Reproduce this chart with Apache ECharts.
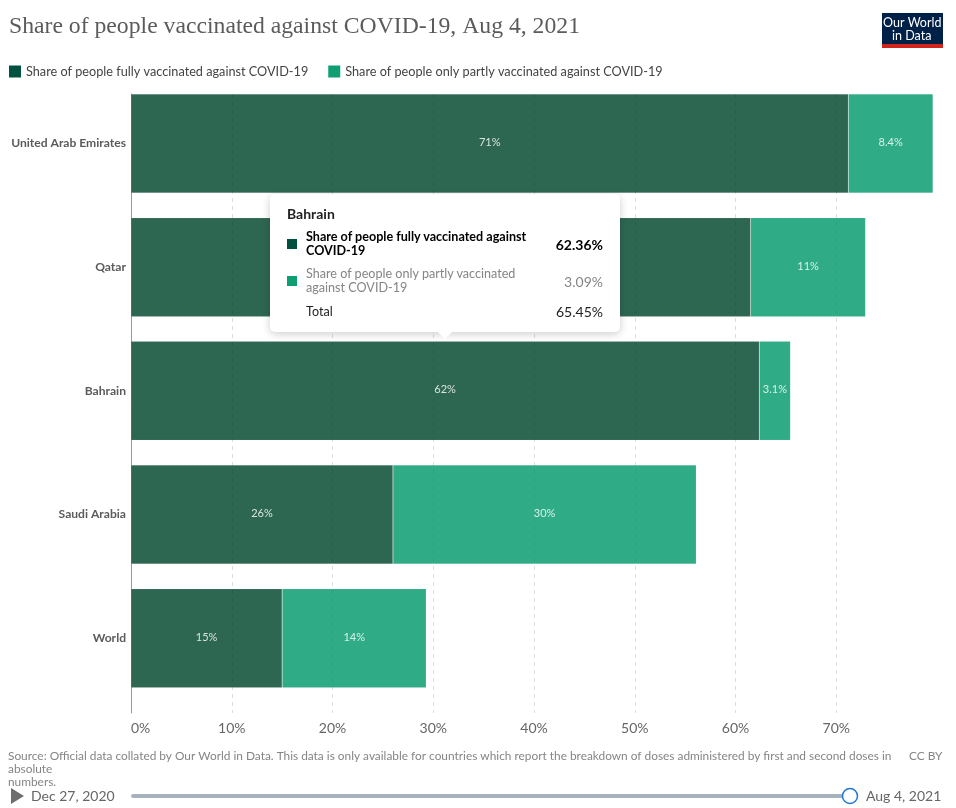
<!DOCTYPE html>
<html>
<head>
<meta charset="utf-8">
<style>
  html, body { margin: 0; padding: 0; background: #fff; }
  #chart { width: 956px; height: 808px; }
</style>
<script src="https://cdn.jsdelivr.net/npm/echarts@6/dist/echarts.min.js"></script>
</head>
<body>
<div id="chart"></div>
<script>
const titleText = 'Share of people vaccinated against COVID-19, Aug 4, 2021';
const countries = ['United Arab Emirates', 'Qatar', 'Bahrain', 'Saudi Arabia', 'World'];
const fullyName = 'Share of people fully vaccinated against COVID-19';
const partlyName = 'Share of people only partly vaccinated against COVID-19';
const fullyValues = [71.2, 61.5, 62.36, 26, 15];
const partlyValues = [8.4, 11.4, 3.09, 30.1, 14.3];
const xTicks = [0, 10, 20, 30, 40, 50, 60, 70];
const sourceLines = [
  'Source: Official data collated by Our World in Data. This data is only available for countries which report the breakdown of doses administered by first and second doses in',
  'absolute',
  'numbers.'
];

const FONT = 'Lato, "Noto Sans", sans-serif';
const DARK = '#00513f';
const GREEN = '#0d9e72';
const DARK_BAR = '#00452b';
const GREEN_BAR = '#01986a';
const X_MAX = 79.6;

const chart = echarts.init(document.getElementById('chart'));

// 2 sig figs like the labels on the bars
function barLabel(v) {
  return parseFloat(v.toPrecision(2)) + '%';
}

function tipRow(color, name, value, weight, textColor, top) {
  return '<div style="display:flex;align-items:center;margin-top:' + top + 'px;color:' + textColor + ';font-weight:' + weight + '">' +
    '<span style="width:10px;height:10px;background:' + color + ';flex:none;margin-right:9px"></span>' +
    '<span style="flex:1;font-size:12.6px;line-height:14px;white-space:normal;padding-right:22px">' + name + '</span>' +
    '<span style="font-size:14px">' + value.toFixed(2) + '%</span></div>';
}

function tipHtml(i) {
  const total = fullyValues[i] + partlyValues[i];
  return '<div style="font-family:' + FONT.replace(/"/g, "'") + ';width:316px">' +
    '<div style="font-size:14px;font-weight:700;color:#222;line-height:17px;margin-bottom:8px">' + countries[i] + '</div>' +
    tipRow(DARK, fullyName, fullyValues[i], 700, '#000', 6) +
    tipRow(GREEN, partlyName, partlyValues[i], 400, '#858585', 9) +
    '<div style="display:flex;align-items:center;margin-top:6px;color:#222">' +
    '<span style="flex:1;font-size:12.6px;padding-left:19px">Total</span>' +
    '<span style="font-size:14px">' + total.toFixed(2) + '%</span></div>' +
    '<div style="position:absolute;left:170px;bottom:-5px;width:10px;height:10px;background:#fff;transform:rotate(45deg)"></div>' +
    '</div>';
}

function barSeries(name, values, color) {
  return {
    name: name,
    type: 'bar',
    stack: 'doses',
    xAxisIndex: 0,
    yAxisIndex: 0,
    barWidth: 99,
    data: values,
    itemStyle: { color: color, opacity: 0.82, borderColor: 'rgba(255,255,255,0.25)', borderWidth: 0.5 },
    emphasis: { disabled: true },
    label: {
      show: true,
      position: 'inside',
      offset: [0, -1],
      color: '#fff',
      fontFamily: FONT,
      fontSize: 11,
      formatter: p => barLabel(p.value)
    }
  };
}

chart.setOption({
  animation: false,
  backgroundColor: '#fff',
  textStyle: { fontFamily: FONT },
  title: {
    text: titleText,
    left: 9,
    top: 15,
    padding: 0,
    textStyle: { fontFamily: '"Liberation Serif", serif', fontWeight: 400, fontSize: 23.7, color: '#5b5b5b' }
  },
  legend: {
    left: 9,
    top: 65,
    padding: 0,
    itemWidth: 12,
    itemHeight: 12,
    itemGap: 20,
    icon: 'rect',
    selectedMode: false,
    textStyle: { fontFamily: FONT, fontSize: 12.7, color: '#444' },
    data: [
      { name: fullyName, itemStyle: { color: DARK, opacity: 1, borderWidth: 0 } },
      { name: partlyName, itemStyle: { color: GREEN, opacity: 1, borderWidth: 0 } }
    ]
  },
  tooltip: {
    trigger: 'item',
    alwaysShowContent: true,
    transitionDuration: 0,
    enterable: false,
    position: [270, 194],
    padding: [11, 17, 10, 17],
    backgroundColor: '#fff',
    borderWidth: 0,
    extraCssText: 'border-radius:5px;box-shadow:0 2px 8px rgba(0,0,0,0.2);',
    formatter: p => tipHtml(p.dataIndex)
  },
  grid: [
    { left: 131, right: 23, top: 81.6, height: 618.5 },
    { left: 131, right: 23, top: 94, height: 619 }
  ],
  xAxis: [
    { type: 'value', gridIndex: 0, min: 0, max: X_MAX, show: false },
    {
      type: 'value',
      gridIndex: 1,
      min: 0,
      max: X_MAX,
      interval: xTicks[1] - xTicks[0],
      axisLine: { show: false },
      axisTick: { show: false },
      splitLine: { show: true, showMinLine: false, showMaxLine: false, lineStyle: { color: '#dddddd', type: [4, 4] } },
      axisLabel: {
        color: '#666',
        fontSize: 14,
        margin: 8,
        fontFamily: FONT,
        alignMinLabel: 'left',
        showMaxLabel: false,
        formatter: v => (xTicks.includes(v) ? v + '%' : '')
      }
    }
  ],
  yAxis: [
    {
      type: 'category',
      gridIndex: 0,
      inverse: true,
      data: countries,
      axisLine: { show: false },
      axisTick: { show: false },
      axisLabel: { color: '#5b5b5b', fontSize: 12.1, fontWeight: 700, margin: 5, padding: [0, 0, 3, 0], fontFamily: FONT }
    },
    {
      type: 'value',
      gridIndex: 1,
      min: 0,
      max: 1,
      axisLine: { show: true, lineStyle: { color: '#999', width: 1 } },
      axisTick: { show: false },
      axisLabel: { show: false },
      splitLine: { show: false }
    }
  ],
  series: [
    barSeries(fullyName, fullyValues, DARK_BAR),
    barSeries(partlyName, partlyValues, GREEN_BAR)
  ],
  graphic: [
    // logo
    { type: 'rect', left: 882, top: 13, shape: { width: 61, height: 31 }, style: { fill: '#002147' } },
    { type: 'rect', left: 882, top: 44, shape: { width: 61, height: 4 }, style: { fill: '#ce261e' } },
    { type: 'text', left: 883, top: 16, style: { text: 'Our World', fill: '#fff', font: '12.5px ' + FONT } },
    { type: 'text', left: 892, top: 29, style: { text: 'in Data', fill: '#fff', font: '12.5px ' + FONT } },
    // footer
    { type: 'text', left: 8, top: 750, style: { text: sourceLines.join('\n'), fill: '#858585', font: '11.87px ' + FONT, lineHeight: 13 } },
    { type: 'text', left: 909, top: 750, style: { text: 'CC BY', fill: '#858585', font: '11.87px ' + FONT } },
    // time slider
    { type: 'polygon', shape: { points: [[11, 788], [24, 796], [11, 804]] }, style: { fill: '#6e6e6e' } },
    { type: 'text', left: 31, top: 789, style: { text: 'Dec 27, 2020', fill: '#666', font: '14px ' + FONT } },
    { type: 'rect', left: 131, top: 794, shape: { width: 719, height: 4, r: 2 }, style: { fill: '#a8b2bf' } },
    { type: 'circle', shape: { cx: 850, cy: 796, r: 7.5 }, style: { fill: '#fff', stroke: '#1d78d4', lineWidth: 1.5 } },
    { type: 'text', left: 866, top: 789, style: { text: 'Aug 4, 2021', fill: '#666', font: '14px ' + FONT } }
  ]
});

// keep the Bahrain tooltip open, as in the screenshot
chart.dispatchAction({ type: 'showTip', seriesIndex: 0, dataIndex: countries.indexOf('Bahrain') });
</script>
</body>
</html>
